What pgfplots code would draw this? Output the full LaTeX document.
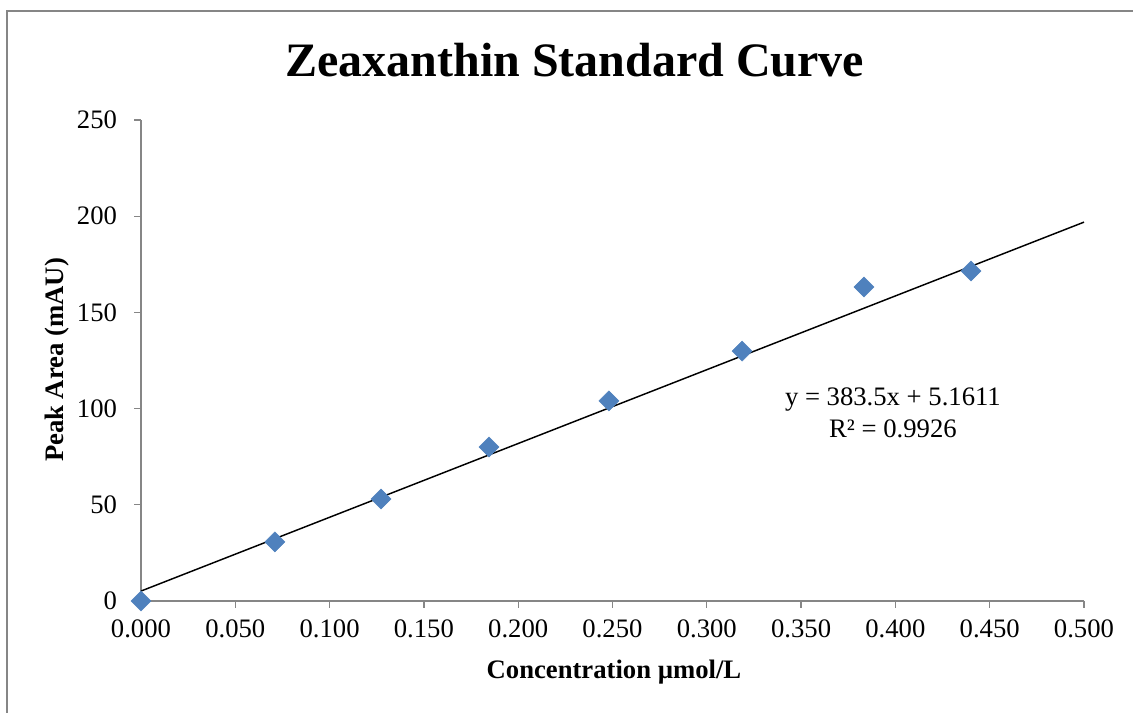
\documentclass[border=0pt]{standalone}
\usepackage{pgfplots}
\pgfplotsset{compat=1.18}
\usepackage{fontspec}
\setmainfont{Liberation Serif}
\definecolor{markblue}{HTML}{4F81BD}
\definecolor{axisgray}{HTML}{868686}

\pgfplotstableread{
x       y
0.0000  0.0
0.0710  30.7
0.1273  53.0
0.1845  80.0
0.2481  104.0
0.3187  129.9
0.3833  163.2
0.4401  171.5
}\zeadata

\begin{document}
\begin{tikzpicture}
% page bounds and chart-area border
\useasboundingbox (-105.75pt,-84pt) rectangle (744pt,450.75pt);
\draw[axisgray, line width=1.1pt] (-100.5pt,-84pt) -- (-100.5pt,442.5pt) -- (744pt,442.5pt);

\begin{axis}[
  at={(0pt,0pt)}, anchor=origin,
  scale only axis,
  width=707.25pt, height=360.75pt,
  xmin=0, xmax=0.5, ymin=0, ymax=250,
  axis x line*=bottom, axis y line*=left,
  axis line style={axisgray, line width=1pt},
  every tick/.style={axisgray, line width=1pt},
  tick align=outside,
  major tick length=5pt,
  xtick={0,0.05,...,0.5},
  ytick={0,50,...,250},
  x tick label style={/pgf/number format/fixed, /pgf/number format/fixed zerofill, /pgf/number format/precision=3, yshift=-5.5pt},
  y tick label style={xshift=-9.5pt},
  /pgf/number format/assume math mode=true,
  tick label style={font=\fontsize{20}{24}\selectfont, text=black},
  clip=false,
]
\addplot[only marks, mark=square*, mark size=5.3pt, mark options={rotate=45, fill=markblue, draw=markblue}] table[x=x, y=y] {\zeadata};
% linear trend line y = 383.5x + 5.1611
\addplot[black, line width=1.1pt] coordinates {(0,5.1611) (0.5,196.9111)};
\node[align=center, font=\fontsize{20}{24}\selectfont] at (axis cs:0.3987,98) {y = 383.5x + 5.1611\\R² = 0.9926};
\end{axis}

\node[font=\bfseries\fontsize{36}{40}\selectfont, anchor=base] at (325.5pt,393pt) {Zeaxanthin Standard Curve};
\node[font=\bfseries\fontsize{20}{24}\selectfont, rotate=90] at (-63pt,180.75pt) {Peak Area (mAU)};
\node[font=\bfseries\fontsize{20}{24}\selectfont] at (354.75pt,-53.25pt) {Concentration µmol/L};
\end{tikzpicture}
\end{document}
